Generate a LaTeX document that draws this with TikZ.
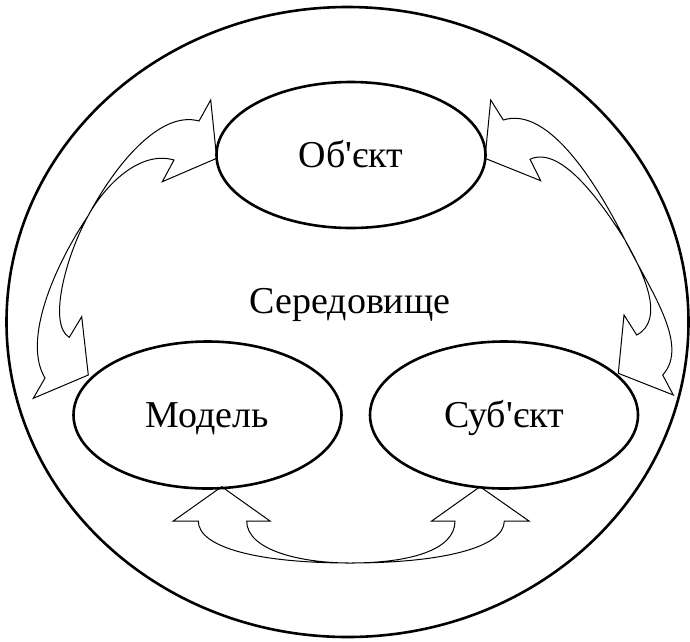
\documentclass[tikz,border=0pt]{standalone}
\usepackage{fontspec}
\setmainfont{Liberation Serif}
\usetikzlibrary{shapes.geometric}

\begin{document}
\begin{tikzpicture}[x=1pt, y=-1pt, thick]

		\tikzstyle{elem}=[ellipse, draw, line width=2.6pt, inner sep=0pt, text height=25pt, text depth=0pt, font=\fontsize{38}{40}\selectfont, minimum width=268pt, minimum height=147pt]
		\tikzstyle{env}=[ellipse, draw, line width=2.6pt, inner sep=0pt, minimum width=682pt, minimum height=630pt]
		\tikzstyle{arr}=[draw, line width=1pt, line join=miter]
		\useasboundingbox (0,0) rectangle (690,641);
		\node[env] (sered) at (347.5,322) {};
		\node[inner sep=0pt, text height=25pt, text depth=0pt, font=\fontsize{38}{40}\selectfont] (seredlab) at (350,300.5) {Середовище};
		% Curved block arrows
		\draw[arr] (174,160) -- (162.3,181.7) -- (216.7,158.3) -- (210.7,100) -- (199,121)
			.. controls (160,110) and (115,165) .. (88,216)
			.. controls (55,265) and (22,340) .. (45,378)
			-- (33.3,398.3) -- (88.3,375) -- (81.7,316.7) -- (69.3,337.3)
			.. controls (48,325) and (65,258) .. (88,216)
			.. controls (105,185) and (140,150) .. (174,160) -- cycle;
		\draw[arr] (530,159.3) -- (540.7,180.7) -- (485,158.3) -- (490.7,100) -- (503.3,120)
			.. controls (550,105) and (600,190) .. (625,240)
			.. controls (650,290) and (690,345) .. (662.7,375)
			-- (673.3,395) -- (618.3,373.3) -- (624,315) -- (636.7,335)
			.. controls (665,320) and (645,275) .. (625,240)
			.. controls (600,200) and (560,145) .. (530,159.3) -- cycle;
		\draw[arr] (198.3,521) -- (173.3,521) -- (221.7,486.7) -- (270,521) -- (246.7,521)
			.. controls (246.7,550) and (300,563) .. (350,563)
			.. controls (410,563) and (455,550) .. (455,521)
			-- (431.7,521) -- (480,486.7) -- (529,521) -- (504.3,521)
			.. controls (504.3,548) and (440,563) .. (350,563)
			.. controls (260,563) and (198.3,548) .. (198.3,521) -- cycle;
		% Elements
		\node[elem, minimum width=269pt, minimum height=146pt] (obj) at (351,155) {Об\textquotesingle єкт};
		\node[elem] (model) at (207.5,415) {Модель};
		\node[elem] (subj) at (504,415) {Суб\textquotesingle єкт};

\end{tikzpicture}
\end{document}
